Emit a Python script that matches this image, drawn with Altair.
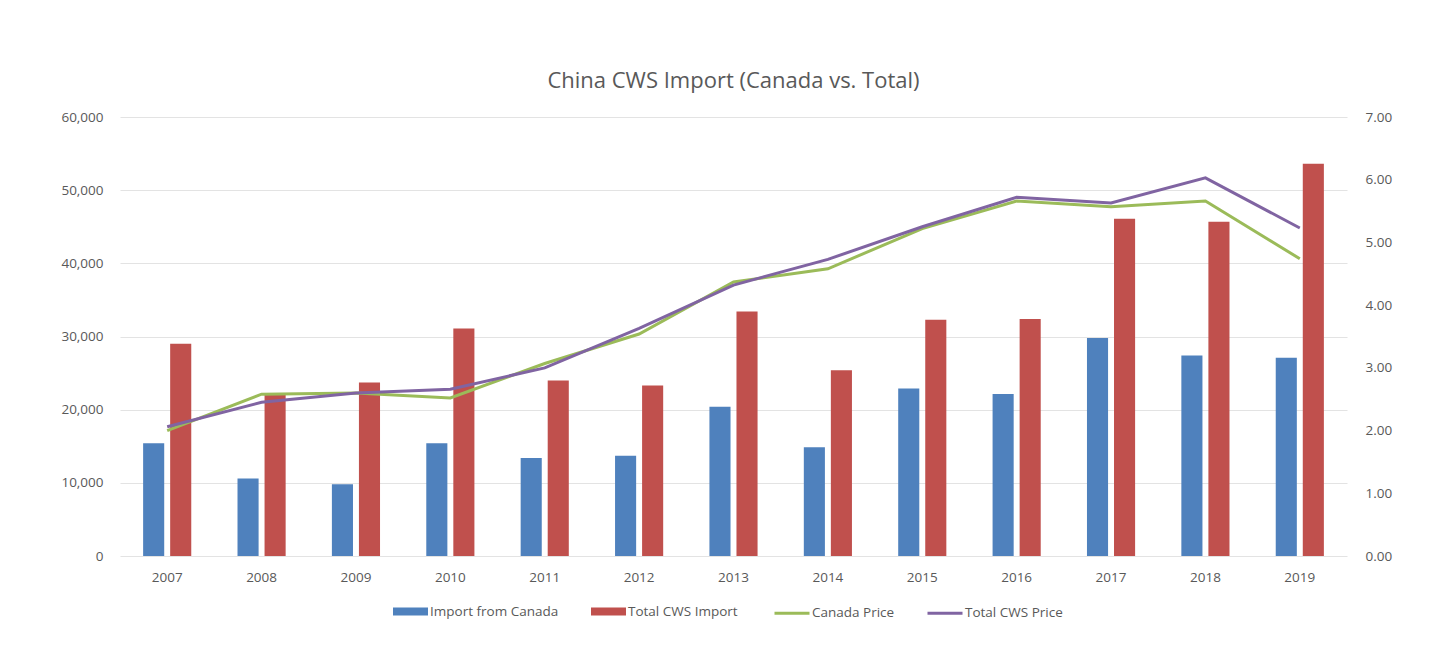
import altair as alt
import pandas as pd

years = [str(y) for y in range(2007, 2020)]
import_canada = [15400, 10600, 9800, 15400, 13400, 13700, 20400, 14850, 22900, 22150, 29800, 27400, 27100]
total_import = [29000, 22000, 23700, 31100, 24000, 23300, 33400, 25400, 32300, 32400, 46100, 45700, 53600]
canada_price = [2.00, 2.58, 2.60, 2.52, 3.07, 3.54, 4.37, 4.58, 5.22, 5.66, 5.57, 5.66, 4.74]
total_price = [2.06, 2.45, 2.60, 2.66, 3.00, 3.63, 4.32, 4.73, 5.25, 5.72, 5.63, 6.03, 5.23]

bar_series = ["Import from Canada", "Total CWS Import"]
line_series = ["Canada Price", "Total CWS Price"]
bar_colors = ["#4F81BD", "#C0504D"]
line_colors = ["#9BBB59", "#8064A2"]

left_ticks = [0, 10000, 20000, 30000, 40000, 50000, 60000]
right_ticks = [0, 1, 2, 3, 4, 5, 6, 7]

bars_df = pd.DataFrame(
    [{"year": y, "series": bar_series[0], "value": v} for y, v in zip(years, import_canada)]
    + [{"year": y, "series": bar_series[1], "value": v} for y, v in zip(years, total_import)]
)
lines_df = pd.DataFrame(
    [{"year": y, "series": line_series[0], "value": v} for y, v in zip(years, canada_price)]
    + [{"year": y, "series": line_series[1], "value": v} for y, v in zip(years, total_price)]
)

FONT = "Open Sans"
GRAY = "#595959"
FS = 13.5

x_enc = alt.X(
    "year:N", sort=years,
    scale=alt.Scale(paddingInner=0.49, paddingOuter=0.245),
    axis=alt.Axis(title=None, labelAngle=0, domain=False, ticks=False, grid=False, labelPadding=14,
                  labelFontSize=FS, labelColor=GRAY, labelFont=FONT),
)

bars = alt.Chart(bars_df).mark_bar().encode(
    x=x_enc,
    xOffset=alt.XOffset("series:N", sort=bar_series,
                        scale=alt.Scale(paddingInner=0.22, paddingOuter=0)),
    y=alt.Y("value:Q", scale=alt.Scale(domain=[0, 60000]),
            axis=alt.Axis(title=None, values=left_ticks, format=",.0f", grid=True,
                          gridColor="#E3E3E3", domain=False, ticks=False, labelPadding=17,
                          labelFontSize=FS, labelColor=GRAY, labelFont=FONT)),
    color=alt.Color("series:N", sort=bar_series,
                    scale=alt.Scale(domain=bar_series, range=bar_colors),
                    legend=alt.Legend(title=None, orient="none", legendX=273, legendY=477,
                                      direction="horizontal", symbolType="M-1,-0.23H1V0.23H-1Z",
                                      symbolSize=1225, symbolStrokeWidth=0, labelOffset=2,
                                      columnPadding=32, labelFontSize=FS, labelColor=GRAY,
                                      labelFont=FONT, padding=0)),
)

lines = alt.Chart(lines_df).mark_line(strokeWidth=3).encode(
    x=alt.X("year:N", sort=years),
    y=alt.Y("value:Q", scale=alt.Scale(domain=[0, 7]),
            axis=alt.Axis(title=None, orient="right", values=right_ticks, format=".2f",
                          grid=False, domain=False, ticks=False, labelPadding=18,
                          labelFontSize=FS, labelColor=GRAY, labelFont=FONT)),
    stroke=alt.Stroke("series:N", sort=line_series,
                      scale=alt.Scale(domain=line_series, range=line_colors),
                      legend=alt.Legend(title=None, orient="none", legendX=653, legendY=477,
                                        direction="horizontal", symbolType="M-1,0H1",
                                        symbolSize=1225, symbolStrokeWidth=3, labelOffset=1,
                                        columnPadding=26, labelFontSize=FS, labelColor=GRAY,
                                        labelFont=FONT, padding=0)),
)

chart = alt.layer(bars, lines).resolve_scale(y="independent", color="independent").properties(
    width=1227, height=439,
    padding={"left": 112, "top": 109, "right": 80, "bottom": 80},
    autosize=alt.AutoSizeParams(type="none"),
    background="white",
    title=alt.TitleParams("China CWS Import (Canada vs. Total)", fontSize=22, font=FONT,
                          fontWeight="normal", color=GRAY, anchor="middle", offset=17),
).configure_view(strokeWidth=0, stroke="transparent")

chart.save("out.html", embed_options={"renderer": "svg", "actions": False})
